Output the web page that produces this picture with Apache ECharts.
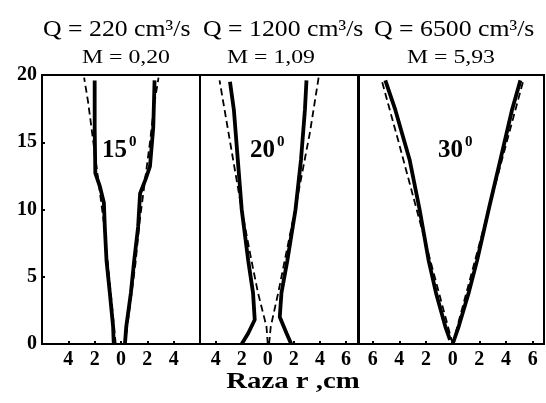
<!DOCTYPE html>
<html>
<head>
<meta charset="utf-8">
<script src="https://cdn.jsdelivr.net/npm/echarts@6/dist/echarts.min.js"></script>
<style>
  html, body { margin: 0; padding: 0; background: #fff; }
  #chart { width: 546px; height: 403px; }
</style>
</head>
<body>
<div id="chart"></div>
<script>
// headings over each panel
var flowLabels = ['Q = 220 cm\u00b3/s', 'Q = 1200 cm\u00b3/s', 'Q = 6500 cm\u00b3/s'];
var mLabels = ['M = 0,20', 'M = 1,09', 'M = 5,93'];
var angleLabels = ['15', '20', '30'];

// axis ranges / tick labels (r in cm, z in cm)
var xRanges = [[-6, 6], [-5.2, 7], [-7.1, 6.85]];
var xTicks = [[-4, -2, 0, 2, 4], [-4, -2, 0, 2, 4, 6], [-6, -4, -2, 0, 2, 4, 6]];
var yTicks = [0, 5, 10, 15, 20];

// panel 1 (15 deg), [r, z]
var p1LeftSolid = [[-0.55, 0], [-0.6, 1.3], [-0.85, 3.8], [-1.1, 6.2], [-1.23, 8.7], [-1.3, 10.5], [-1.6, 11.7], [-1.95, 12.7], [-2.0, 16.1], [-2.0, 19.6]];
var p1RightSolid = [[0.3, 0], [0.4, 1.3], [0.75, 3.8], [1.0, 6.2], [1.3, 8.7], [1.45, 11.2], [1.85, 12.2], [2.2, 13.2], [2.45, 16.1], [2.55, 19.6]];
var p1LeftDash = [[-0.4, 0], [-0.7, 3], [-1.0, 6], [-1.3, 9], [-1.7, 12], [-2.1, 15], [-2.5, 18], [-2.8, 19.8]];
var p1RightDash = [[0.3, 0], [0.7, 3], [1.1, 6], [1.4, 9], [1.8, 12], [2.2, 15], [2.55, 18], [2.85, 19.8]];

// panel 2 (20 deg)
var p2LeftSolid = [[-2.0, 0], [-1.5, 0.8], [-1.0, 1.8], [-1.13, 3.8], [-1.5, 6.2], [-2.0, 10.0], [-2.3, 13.7], [-2.6, 17.4], [-2.9, 19.5]];
var p2RightSolid = [[1.8, 0], [1.44, 0.8], [0.92, 2.0], [1.05, 3.8], [1.5, 6.2], [2.13, 10.0], [2.55, 13.7], [2.85, 17.4], [2.97, 19.6]];
var p2LeftDash = [[0, 0], [-0.1, 1.3], [-0.75, 3.8], [-1.25, 6.2], [-2.0, 10.0], [-2.8, 14.5], [-3.7, 19.6]];
var p2RightDash = [[0.1, 0], [0.23, 1.3], [0.8, 3.8], [1.3, 6.2], [2.1, 10.0], [3.23, 15.7], [3.9, 19.8]];

// panel 3 (30 deg)
var p3LeftSolid = [[-0.2, 0.3], [-0.55, 1.3], [-1.25, 3.8], [-1.8, 6.2], [-2.48, 10.0], [-3.23, 13.7], [-4.3, 17.4], [-5.05, 19.6]];
var p3RightSolid = [[0, 0], [0.45, 1.3], [1.2, 3.8], [1.83, 6.2], [2.7, 10.0], [3.58, 13.7], [4.45, 17.4], [5.08, 19.6]];
var p3LeftDash = [[0, 0], [-1.35, 5], [-2.7, 10], [-4.05, 15], [-5.35, 19.7]];
var p3RightDash = [[0, 0], [1.35, 5], [2.7, 10], [4.05, 15], [5.33, 19.7]];

var panels = [
    [p1LeftSolid, p1RightSolid, p1LeftDash, p1RightDash],
    [p2LeftSolid, p2RightSolid, p2LeftDash, p2RightDash],
    [p3LeftSolid, p3RightSolid, p3LeftDash, p3RightDash]
];

var gridBoxes = [
    {left: 42, width: 158},
    {left: 200, width: 159},
    {left: 358, width: 186}
];

var serif = '"Liberation Serif", "Times New Roman", serif';
var myChart = echarts.init(document.getElementById('chart'), null, {renderer: 'canvas'});

var grids = [], xAxes = [], yAxes = [], series = [];
for (var i = 0; i < 3; i++) {
    grids.push({
        left: gridBoxes[i].left, width: gridBoxes[i].width,
        top: 75, height: 269,
        show: true, borderColor: '#000', borderWidth: 2,
        backgroundColor: 'transparent'
    });
    xAxes.push({
        gridIndex: i, type: 'value',
        min: xRanges[i][0], max: xRanges[i][1],
        splitLine: {show: false},
        axisLine: {show: true, onZero: false, lineStyle: {color: '#000', width: 2}},
        axisTick: {show: true, inside: true, length: 3, customValues: xTicks[i], lineStyle: {color: '#000', width: 2}},
        axisLabel: {
            show: true, customValues: xTicks[i], margin: 6,
            color: '#000', fontFamily: serif, fontWeight: 'bold', fontSize: 20,
            formatter: function (v) { return String(Math.abs(v)); }
        }
    });
    yAxes.push({
        gridIndex: i, type: 'value',
        min: 0, max: 20, interval: 5,
        splitLine: {show: false},
        axisLine: {show: i === 0, onZero: false, lineStyle: {color: '#000', width: 2}},
        axisTick: {show: i === 0, inside: true, length: 3, lineStyle: {color: '#000', width: 2}},
        axisLabel: {
            show: i === 0, margin: 5,
            color: '#000', fontFamily: serif, fontWeight: 'bold', fontSize: 20
        }
    });
    for (var k = 0; k < 4; k++) {
        var dashed = k >= 2;
        series.push({
            type: 'line',
            xAxisIndex: i, yAxisIndex: i,
            data: panels[i][k],
            showSymbol: false,
            silent: true,
            lineStyle: {
                color: '#000',
                width: dashed ? 1.8 : 3.8,
                type: dashed ? [7, 4] : 'solid'
            },
            z: dashed ? 3 : 2
        });
    }
}

var flowX = [43, 203, 374];
var mX = [126, 271, 451];
var angleX = [102, 250, 438];
var graphics = [];
for (var j = 0; j < 3; j++) {
    graphics.push({
        type: 'text', x: flowX[j], y: 18, scaleX: 1.12,
        style: {text: flowLabels[j], font: '23px ' + serif, fill: '#000', align: 'left', verticalAlign: 'top'}
    });
    graphics.push({
        type: 'text', x: mX[j], y: 49, scaleX: 1.25,
        style: {text: mLabels[j], font: '19px ' + serif, fill: '#000', align: 'center', verticalAlign: 'top'}
    });
    graphics.push({
        type: 'text', x: angleX[j], y: 138,
        style: {text: angleLabels[j], font: 'bold 25px ' + serif, fill: '#000', align: 'left', verticalAlign: 'top'}
    });
    graphics.push({
        type: 'text', x: angleX[j] + 27, y: 135,
        style: {text: '0', font: 'bold 15px ' + serif, fill: '#000', align: 'left', verticalAlign: 'top'}
    });
}
graphics.push({
    type: 'text', x: 293, y: 370, scaleX: 1.2,
    style: {text: 'Raza r ,cm', font: 'bold 24px ' + serif, fill: '#000', align: 'center', verticalAlign: 'top'}
});

var option = {
    animation: false,
    backgroundColor: '#fff',
    grid: grids,
    xAxis: xAxes,
    yAxis: yAxes,
    series: series,
    graphic: graphics
};
myChart.setOption(option);
</script>
</body>
</html>
